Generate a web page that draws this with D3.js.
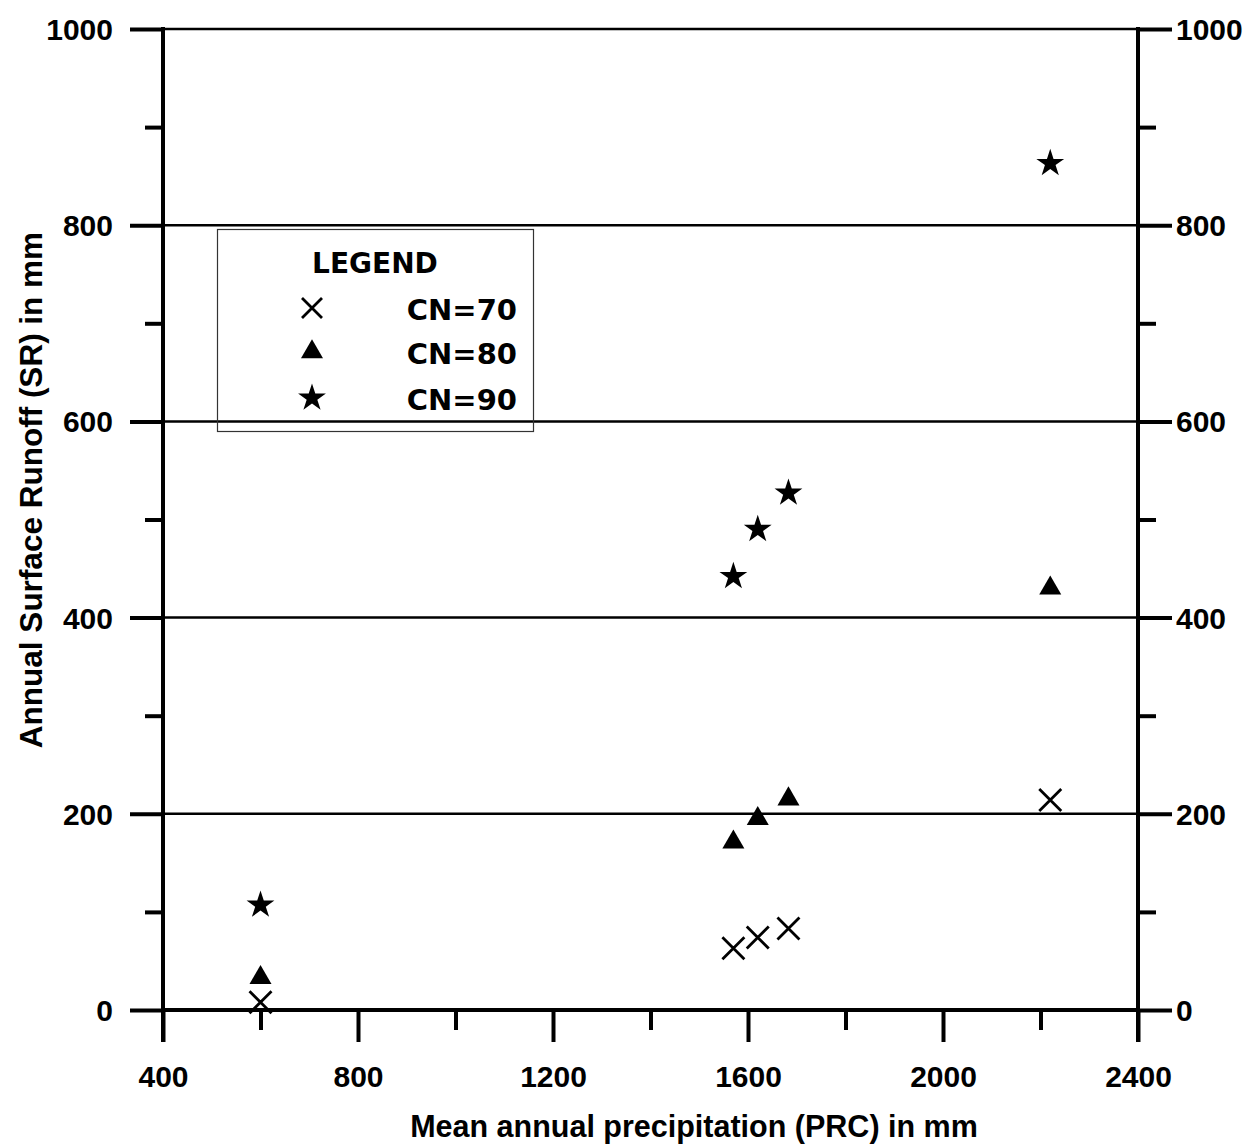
<!DOCTYPE html>
<html><head><meta charset="utf-8">
<script src="https://cdn.jsdelivr.net/npm/d3@7"></script>
<style>
html,body{margin:0;padding:0;background:#fff;}
svg text{font-family:"Liberation Sans",Arial,sans-serif;font-weight:bold;fill:#000;}
</style></head>
<body>
<svg id="chart" width="1259" height="1147"></svg>
<script>
const precip = [600, 1570, 1620, 1683, 2220];
const cn70 = [8, 63, 74, 83, 214];
const cn80 = [33, 171, 195, 215, 430];
const cn90 = [107, 442, 490, 527, 863];
const xTicks = [400, 800, 1200, 1600, 2000, 2400];
const xMinor = [600, 1000, 1400, 1800, 2200];
const yTicks = [0, 200, 400, 600, 800, 1000];
const yMinor = [100, 300, 500, 700, 900];
const seriesNames = ["CN=70", "CN=80", "CN=90"];
const xTitle = "Mean annual precipitation (PRC) in mm";
const yTitle = "Annual Surface Runoff (SR) in mm";

const svg = d3.select("#chart");
const L = 163, R = 1138, T = 29, B = 1010;
const x = d3.scaleLinear().domain([400, 2400]).range([L, R]);
const y = d3.scaleLinear().domain([0, 1000]).range([B, T]);
const fmt = d3.format("d");

// gridlines inside
svg.append("g").selectAll("line").data(yTicks).join("line")
  .attr("x1", L).attr("x2", R).attr("y1", d => y(d)).attr("y2", d => y(d))
  .attr("stroke", "#000").attr("stroke-width", d => d === 0 ? 4 : 2.5);

// left / right axes
const leftAx = d3.axisLeft(y).tickValues(yTicks).tickFormat(fmt).tickSize(33).tickPadding(17).tickSizeOuter(0);
const gl = svg.append("g").attr("transform", `translate(${L},0)`).call(leftAx);
const rightAx = d3.axisRight(y).tickValues(yTicks).tickFormat(fmt).tickSize(34).tickPadding(4).tickSizeOuter(0);
const gr = svg.append("g").attr("transform", `translate(${R},0)`).call(rightAx);
const leftMinor = d3.axisLeft(y).tickValues(yMinor).tickSize(18).tickFormat("").tickSizeOuter(0);
const glm = svg.append("g").attr("transform", `translate(${L},0)`).call(leftMinor);
const rightMinor = d3.axisRight(y).tickValues(yMinor).tickSize(18).tickFormat("").tickSizeOuter(0);
const grm = svg.append("g").attr("transform", `translate(${R},0)`).call(rightMinor);

// bottom axis
const botAx = d3.axisBottom(x).tickValues(xTicks).tickFormat(fmt).tickSize(32).tickPadding(24).tickSizeOuter(0);
const gb = svg.append("g").attr("transform", `translate(0,${B})`).call(botAx);
const botMinor = d3.axisBottom(x).tickValues(xMinor).tickSize(20).tickFormat("").tickSizeOuter(0);
const gbm = svg.append("g").attr("transform", `translate(0,${B})`).call(botMinor);

[gl, gr, glm, grm, gb, gbm].forEach(g => {
  g.select(".domain").remove();
  g.selectAll(".tick line").attr("stroke", "#000").attr("stroke-width", 4);
  g.selectAll(".tick text").attr("font-size", 30).style("font-family", '"Liberation Sans",Arial,sans-serif').style("font-weight", "bold").attr("fill", "#000");
});
gl.selectAll(".tick text").attr("dy", "0.35em");
gr.selectAll(".tick text").attr("dy", "0.35em");
gb.selectAll(".tick text").attr("dy", "0.71em");

// vertical axes
[L, R].forEach(xx => svg.append("line").attr("x1", xx).attr("x2", xx).attr("y1", T - 2).attr("y2", B + 32)
  .attr("stroke", "#000").attr("stroke-width", 4));

// markers
const starPath = d3.symbol().type(d3.symbolStar).size(240)();
const triPath = d3.symbol().type(d3.symbolTriangle).size(210)();
function drawX(g, cx, cy, s) {
  g.append("path").attr("d", `M${cx - s},${cy - s}L${cx + s},${cy + s}M${cx - s},${cy + s}L${cx + s},${cy - s}`)
    .attr("stroke", "#000").attr("stroke-width", 2.8).attr("fill", "none");
}
const mk = svg.append("g");
precip.forEach((p, i) => drawX(mk, x(p), y(cn70[i]), 11));
mk.selectAll("path.tri").data(precip).join("path").attr("class", "tri")
  .attr("d", triPath).attr("transform", (d, i) => `translate(${x(d)},${y(cn80[i])})`).attr("fill", "#000");
mk.selectAll("path.star").data(precip).join("path").attr("class", "star")
  .attr("d", starPath).attr("transform", (d, i) => `translate(${x(d)},${y(cn90[i])})`).attr("fill", "#000");

// legend
const lg = svg.append("g");
lg.append("rect").attr("x", 217.5).attr("y", 229.5).attr("width", 316).attr("height", 202)
  .attr("fill", "none").attr("stroke", "#333").attr("stroke-width", 1.2);
lg.append("text").attr("x", 375).attr("y", 273).attr("text-anchor", "middle")
  .style("font-family", '"DejaVu Sans",sans-serif').attr("font-size", 28).text("LEGEND");
const legY = [308, 352, 398];
drawX(lg, 312, legY[0], 10);
lg.append("path").attr("d", triPath).attr("transform", `translate(312,${legY[1]})`).attr("fill", "#000");
lg.append("path").attr("d", starPath).attr("transform", `translate(312,${legY[2]})`).attr("fill", "#000");
lg.selectAll("text.lab").data(seriesNames).join("text").attr("class", "lab")
  .attr("x", 517).attr("y", (d, i) => legY[i] + 12).attr("text-anchor", "end")
  .style("font-family", '"DejaVu Sans",sans-serif').attr("font-size", 29).text(d => d);

// titles
svg.append("text").attr("x", 694).attr("y", 1137).attr("text-anchor", "middle").attr("font-size", 30.5).text(xTitle);
svg.append("text").attr("transform", "translate(42,490) rotate(-90)").attr("text-anchor", "middle").attr("font-size", 31.5).text(yTitle);
</script>
</body></html>
